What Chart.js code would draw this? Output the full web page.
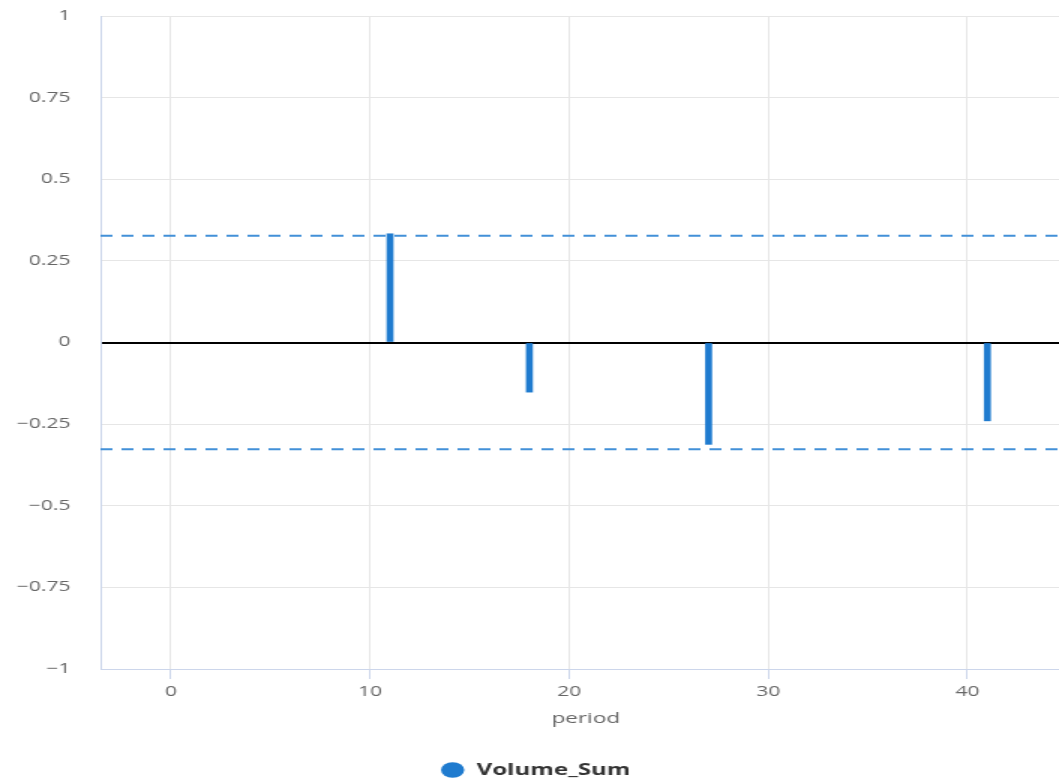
<!DOCTYPE html>
<html>
<head>
<meta charset="utf-8">
<title>Volume_Sum ACF</title>
<script src="https://cdn.jsdelivr.net/npm/chart.js@4/dist/chart.umd.min.js"></script>
<style>
  html, body { margin: 0; padding: 0; background: #ffffff; overflow: hidden; width: 1059px; height: 781px; }
  #wrap {
    width: 714px; height: 788px;
    transform: scaleX(1.5); transform-origin: 0 0;
  }
  canvas { display: block; }
</style>
</head>
<body>
<div id="wrap"><canvas id="chart" width="714" height="788"></canvas></div>
<script>
// Autocorrelation of Volume_Sum by period (lag)
const lags = [11, 18, 27, 41];
const acfValues = [0.333, -0.152, -0.312, -0.240];
const confidenceBound = 0.327;

// Axis ranges and tick values
const xRange = [-3.54, 45.2];
const xTickValues = [0, 10, 20, 30, 40];
const yTickValues = [-1, -0.75, -0.5, -0.25, 0, 0.25, 0.5, 0.75, 1];

const seriesName = 'Volume_Sum';
const xTitle = 'period';

const fontFamily = "'Open Sans', 'Noto Sans', sans-serif";
const axisLine = '#ccd6eb';
const gridLine = '#e6e6e6';
const labelColor = '#666666';

function formatTick(v) {
  const s = String(Math.abs(v));
  return v < 0 ? '\u2212' + s : s;
}

const barPoints = lags.map((x, i) => ({ x: x, y: acfValues[i] }));
const upperBand = xRange.map(x => ({ x: x, y: confidenceBound }));
const lowerBand = xRange.map(x => ({ x: x, y: -confidenceBound }));

new Chart(document.getElementById('chart'), {
  type: 'bar',
  data: {
    datasets: [
      {
        type: 'bar',
        label: seriesName,
        data: barPoints,
        backgroundColor: '#1f7bcf',
        borderColor: '#1f7bcf',
        borderWidth: 0,
        barThickness: 4,
        grouped: false,
        order: 1
      },
      {
        type: 'line',
        label: 'upper',
        data: upperBand,
        borderColor: '#4290d8',
        borderWidth: 2,
        borderDash: [8, 6],
        pointRadius: 0,
        fill: false,
        order: 2
      },
      {
        type: 'line',
        label: 'lower',
        data: lowerBand,
        borderColor: '#4290d8',
        borderWidth: 2,
        borderDash: [8, 6],
        pointRadius: 0,
        fill: false,
        order: 2
      }
    ]
  },
  options: {
    responsive: false,
    animation: false,
    devicePixelRatio: 1,
    layout: { padding: { top: 16, right: 0, bottom: 0, left: 0 } },
    plugins: {
      tooltip: { enabled: false },
      legend: {
        position: 'bottom',
        labels: {
          filter: item => item.datasetIndex === 0,
          usePointStyle: true,
          pointStyle: 'circle',
          boxWidth: 20,
          boxHeight: 11,
          padding: 0,
          color: '#333333',
          font: { family: fontFamily, size: 16, weight: 'bold' }
        }
      }
    },
    scales: {
      x: {
        type: 'linear',
        min: xRange[0],
        max: xRange[1],
        offset: false,
        afterBuildTicks: s => { s.ticks = xTickValues.map(v => ({ value: v })); },
        afterFit: s => { s.height = 93; },
        ticks: {
          color: labelColor,
          padding: 5,
          font: { family: fontFamily, size: 14 },
          callback: v => formatTick(v)
        },
        grid: {
          offset: false,
          color: gridLine,
          lineWidth: 1,
          tickColor: axisLine,
          tickLength: 10,
          drawTicks: true
        },
        border: { color: axisLine, width: 1 },
        title: {
          display: true,
          text: xTitle,
          color: labelColor,
          font: { family: fontFamily, size: 15 },
          padding: { top: 0, bottom: 34 }
        }
      },
      y: {
        type: 'linear',
        min: -1,
        max: 1,
        afterBuildTicks: s => { s.ticks = yTickValues.map(v => ({ value: v })); },
        afterFit: s => {
          s.width = 67;
          s.paddingTop = 0;
          s.paddingBottom = 0;
        },
        ticks: {
          color: labelColor,
          padding: 20,
          font: { family: fontFamily, size: 14 },
          callback: v => formatTick(v)
        },
        grid: {
          drawTicks: false,
          color: ctx => (ctx.tick && ctx.tick.value === 0 ? '#000000' : gridLine),
          lineWidth: ctx => (ctx.tick && ctx.tick.value === 0 ? 2 : 1)
        },
        border: { color: axisLine, width: 1 }
      }
    }
  }
});
</script>
</body>
</html>
